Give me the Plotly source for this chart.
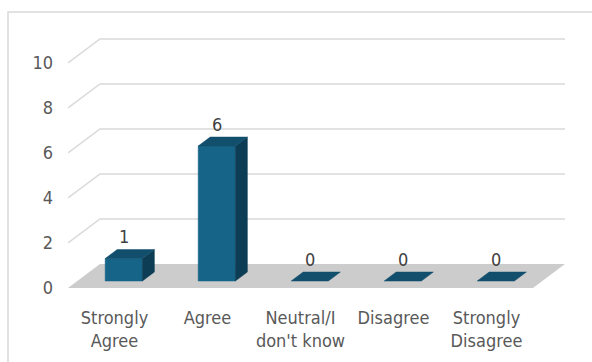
import plotly.graph_objects as go

categories = ["Strongly<br>Agree", "Agree", "Neutral/I<br>don't know", "Disagree", "Strongly<br>Disagree"]
values = [1, 6, 0, 0, 0]
y_ticks = [0, 2, 4, 6, 8, 10]

# pseudo-3D geometry (in axis units)
DEPTH_X = 0.344   # back-wall offset in category units
DEPTH_Y = 1.067   # back-wall offset in value units
F_FRONT = 0.29    # bar front depth fraction
F_BACK = 0.665    # bar back depth fraction
BAR_W = 0.40

FRONT_C = "#166589"
TOP_C = "#124f6c"
SIDE_C = "#0d3d55"
GRID_C = "#d9d9d9"
FLOOR_C = "#cccccc"
TXT_C = "#595959"
FONT = "DejaVu Sans Condensed, Liberation Sans Narrow, sans-serif"

n = len(categories)
fig = go.Figure()

# back wall gridlines with left diagonal
for v in y_ticks[1:]:
    fig.add_trace(go.Scatter(
        x=[0, DEPTH_X, n + DEPTH_X], y=[v, v + DEPTH_Y, v + DEPTH_Y],
        mode="lines", line=dict(color=GRID_C, width=1.5),
        hoverinfo="skip", showlegend=False, cliponaxis=False))

# floor
fig.add_trace(go.Scatter(
    x=[0, n, n + DEPTH_X, DEPTH_X, 0], y=[0, 0, DEPTH_Y, DEPTH_Y, 0],
    mode="lines", fill="toself", fillcolor=FLOOR_C, line=dict(width=0),
    hoverinfo="skip", showlegend=False))

dxf, dyf = F_FRONT * DEPTH_X, F_FRONT * DEPTH_Y
ddx, ddy = (F_BACK - F_FRONT) * DEPTH_X, (F_BACK - F_FRONT) * DEPTH_Y


def poly(xs, ys, color):
    fig.add_trace(go.Scatter(
        x=xs + [xs[0]], y=ys + [ys[0]], mode="lines", fill="toself",
        fillcolor=color, line=dict(width=0.5, color=color),
        hoverinfo="skip", showlegend=False))


for i, v in enumerate(values):
    xl = i + 0.5 + dxf - BAR_W / 2
    xr = i + 0.5 + dxf + BAR_W / 2
    top = v + dyf
    if v > 0:
        # front face
        poly([xl, xr, xr, xl], [dyf, dyf, top, top], FRONT_C)
        # side face
        poly([xr, xr, xr + ddx, xr + ddx], [dyf, top, top + ddy, dyf + ddy], SIDE_C)
    # top face
    poly([xl, xr, xr + ddx, xl + ddx], [top, top, top + ddy, top + ddy], TOP_C)
    fig.add_annotation(
        x=i + 0.5 + dxf, y=top + ddy, text=str(v), showarrow=False,
        yanchor="middle", yshift=13,
        font=dict(family=FONT, size=18, color="#404040"))

L, T, B, R = 68, 12, 74, 0
W, H = 592, 362
px_per_cat = 93
px_per_unit = 22.5
x1 = (W - L - R) / px_per_cat
y1 = (H - T - B) / px_per_unit

fig.update_layout(
    width=W, height=H,
    margin=dict(l=L, r=R, t=T, b=B, pad=0),
    paper_bgcolor="white", plot_bgcolor="white",
    xaxis=dict(range=[0, x1], tickvals=[i + 0.5 for i in range(n)],
               ticktext=categories, showgrid=False, zeroline=False,
               showline=False, ticks="", ticklabelstandoff=17,
               tickfont=dict(family=FONT, size=18, color=TXT_C), fixedrange=True),
    yaxis=dict(range=[0, y1], tickvals=y_ticks, showgrid=False, zeroline=False,
               showline=False, ticks="", ticklabelstandoff=14,
               tickfont=dict(family=FONT, size=18, color=TXT_C), fixedrange=True),
    shapes=[dict(type="rect", xref="paper", yref="paper",
                 x0=(8 - L) / (W - L - R), x1=1.05,
                 y0=-0.4, y1=1.0,
                 line=dict(color=GRID_C, width=1.5), layer="below")],
    showlegend=False,
)

fig.write_html("out.html")
